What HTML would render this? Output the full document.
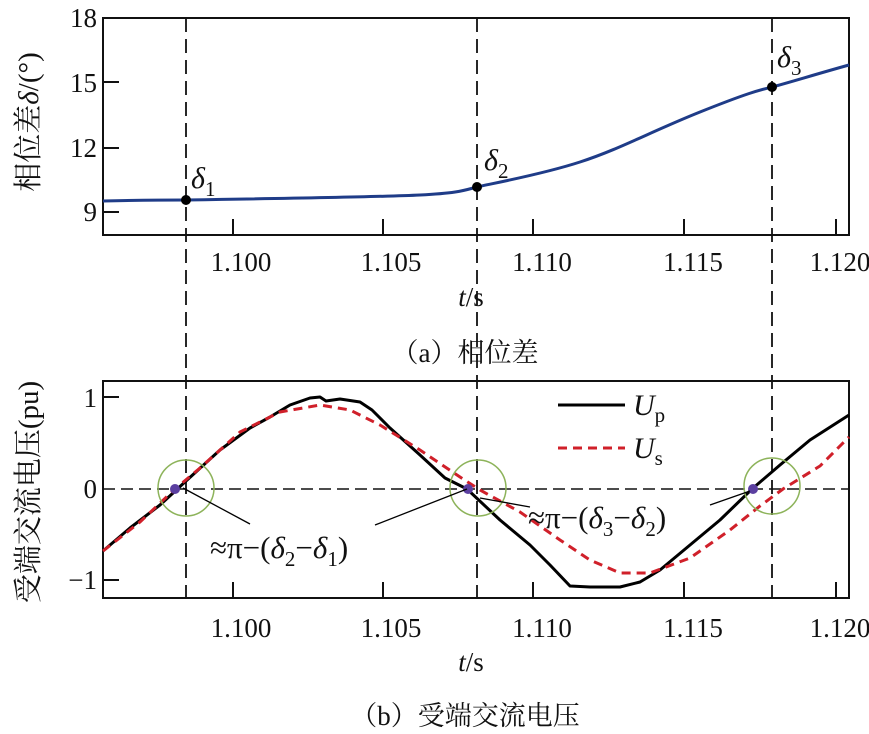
<!DOCTYPE html>
<html><head><meta charset="utf-8"><style>
body{margin:0;background:#fff}
svg{display:block}
svg text{font-family:"Liberation Serif","Times New Roman","DejaVu Serif",serif;fill:#111}
svg text.cj{font-family:"Liberation Serif","Noto Serif CJK SC","Noto Sans CJK SC",serif}
</style></head><body>
<svg width="869" height="734" viewBox="0 0 869 734" xmlns="http://www.w3.org/2000/svg" font-family="Liberation Serif, serif">
<rect x="103" y="18" width="746" height="217" fill="none" stroke="#111" stroke-width="2"/>
<g stroke="#111" stroke-width="2">
<line x1="103" y1="82" x2="119" y2="82"/><line x1="103" y1="148" x2="119" y2="148"/><line x1="103" y1="212" x2="119" y2="212"/>
<line x1="233" y1="235" x2="233" y2="219"/><line x1="383" y1="235" x2="383" y2="219"/><line x1="533" y1="235" x2="533" y2="219"/><line x1="684" y1="235" x2="684" y2="219"/><line x1="836" y1="235" x2="836" y2="219"/>
</g>
<g font-size="27" text-anchor="end">
<text x="97" y="27">18</text><text x="97" y="92">15</text><text x="97" y="157">12</text><text x="97" y="221">9</text>
</g>
<g font-size="27" text-anchor="middle">
<text x="241" y="271">1.100</text><text x="391" y="271">1.105</text><text x="542" y="271">1.110</text><text x="693" y="271">1.115</text><text x="840" y="271">1.120</text>
<text x="471" y="306"><tspan font-style="italic">t</tspan>/s</text>
<text x="241" y="637">1.100</text><text x="391" y="637">1.105</text><text x="542" y="637">1.110</text><text x="693" y="637">1.115</text><text x="840" y="637">1.120</text>
<text x="471" y="671"><tspan font-style="italic">t</tspan>/s</text>
</g>
<text class="cj" x="465" y="362" font-size="27" text-anchor="middle">（a）相位差</text>
<text class="cj" x="465" y="725" font-size="27" text-anchor="middle">（b）受端交流电压</text>
<text class="cj" font-size="29" text-anchor="middle" transform="translate(38,122) rotate(-90)">相位差<tspan font-style="italic">δ</tspan>/(°)</text>
<text class="cj" font-size="29" text-anchor="middle" transform="translate(38,492) rotate(-90)">受端交流电压(pu)</text>
<g stroke="#111" stroke-width="1.8" stroke-dasharray="14,7">
<line x1="186" y1="18" x2="186" y2="598"/><line x1="477" y1="18" x2="477" y2="598"/><line x1="772" y1="18" x2="772" y2="598"/>
</g>
<path d="M103,201 C150,200 186,200 186,200 S380,197 420,195 S465,190 477,187 S540,175 580,162 S650,132 700,112 S760,90 772,87 S820,73 849,65" fill="none" stroke="#1f3c88" stroke-width="3"/>
<g fill="#000"><circle cx="186" cy="200" r="5"/><circle cx="477" cy="187" r="5"/><circle cx="772" cy="87" r="5"/></g>
<g font-size="30" font-style="italic">
<text x="191" y="188">δ<tspan font-size="21" font-style="normal" dy="8">1</tspan></text>
<text x="484" y="170">δ<tspan font-size="21" font-style="normal" dy="8">2</tspan></text>
<text x="777" y="67">δ<tspan font-size="21" font-style="normal" dy="8">3</tspan></text>
</g>
<rect x="103" y="381" width="746" height="217" fill="none" stroke="#111" stroke-width="2"/>
<g stroke="#111" stroke-width="2">
<line x1="103" y1="397" x2="119" y2="397"/><line x1="103" y1="580" x2="119" y2="580"/>
<line x1="233" y1="598" x2="233" y2="582"/><line x1="383" y1="598" x2="383" y2="582"/><line x1="533" y1="598" x2="533" y2="582"/><line x1="684" y1="598" x2="684" y2="582"/><line x1="836" y1="598" x2="836" y2="582"/>
</g>
<line x1="103" y1="489" x2="849" y2="489" stroke="#111" stroke-width="1.5" stroke-dasharray="12,6"/>
<g font-size="27" text-anchor="end">
<text x="97" y="407">1</text><text x="97" y="498">0</text><text x="97" y="589">−1</text>
</g>
<path d="M103,551 L130,528 L160,505 L186,481 L220,450 L250,428 L270,417 L290,405 L310,398 L320,397 L326,401 L340,399 L360,402 L372,410 L390,428 L420,455 L445,478 L467,489 L500,520 L530,545 L550,565 L570,586 L590,587 L620,587 L640,582 L660,570 L690,545 L720,520 L752,489 L780,465 L810,440 L849,415" fill="none" stroke="#000" stroke-width="3" stroke-linejoin="round"/>
<path d="M103,551 L140,522 L175,489 L200,468 L240,432 L280,412 L320,405 L350,410 L380,425 L420,450 L460,477 L480,490 L520,512 L560,540 L590,560 L620,573 L650,573 L690,558 L730,530 L760,506 L783,489 L820,466 L849,437" fill="none" stroke="#d0202a" stroke-width="3" stroke-dasharray="9,6"/>
<g fill="none" stroke="#8db35a" stroke-width="1.5">
<circle cx="186" cy="488" r="28"/><circle cx="478" cy="488" r="28"/><circle cx="772" cy="486" r="28"/>
</g>
<g fill="#5b3fa0"><circle cx="175" cy="489" r="5"/><circle cx="468" cy="489" r="5"/><circle cx="753" cy="489" r="5"/></g>
<g stroke="#000" stroke-width="1.3">
<line x1="183" y1="488" x2="250" y2="524"/><line x1="467" y1="489" x2="375" y2="525"/>
<line x1="480" y1="498" x2="530" y2="507"/><line x1="710" y1="505" x2="750" y2="491"/>
</g>
<text x="210" y="558" font-size="31">≈π−(<tspan font-style="italic">δ</tspan><tspan font-size="21" dy="8">2</tspan><tspan dy="-8">−</tspan><tspan font-style="italic">δ</tspan><tspan font-size="21" dy="8">1</tspan><tspan dy="-8">)</tspan></text>
<text x="528" y="528" font-size="31">≈π−(<tspan font-style="italic">δ</tspan><tspan font-size="21" dy="8">3</tspan><tspan dy="-8">−</tspan><tspan font-style="italic">δ</tspan><tspan font-size="21" dy="8">2</tspan><tspan dy="-8">)</tspan></text>
<line x1="558" y1="405" x2="625" y2="405" stroke="#000" stroke-width="3"/>
<line x1="558" y1="448" x2="625" y2="448" stroke="#d0202a" stroke-width="3" stroke-dasharray="9,6"/>
<text x="633" y="415" font-size="30" font-style="italic">U<tspan font-style="normal" font-size="21" dy="7">p</tspan></text>
<text x="633" y="458" font-size="30" font-style="italic">U<tspan font-style="normal" font-size="21" dy="7">s</tspan></text>
</svg>
</body></html>
